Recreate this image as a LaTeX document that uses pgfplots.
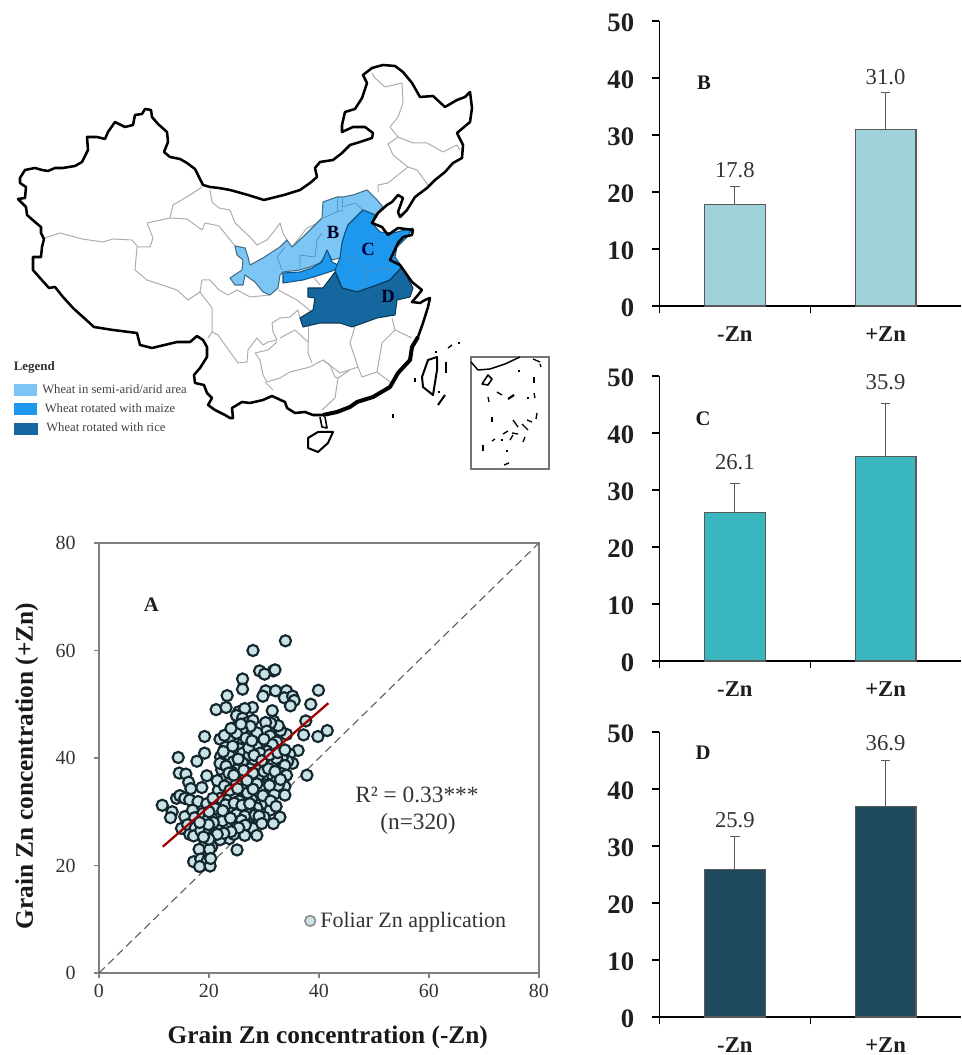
\documentclass[border=0pt]{standalone}
\usepackage{fontspec}
\setmainfont{Liberation Serif}
\usepackage{pgfplots}
\pgfplotsset{compat=1.18}
\newcommand{\fs}[1]{\fontsize{#1}{#1}\selectfont}
\definecolor{lightreg}{HTML}{7CC6F6}
\definecolor{midreg}{HTML}{1E98EE}
\definecolor{darkreg}{HTML}{15689F}
\definecolor{barB}{HTML}{A0D2DB}
\definecolor{barC}{HTML}{3AB6BF}
\definecolor{barD}{HTML}{1F4A5E}
\definecolor{dot}{HTML}{C8E2E6}
\definecolor{dotedge}{HTML}{14262E}
\tikzset{
  vallabel/.style={font=\fs{17},text=black!80},
  panlabel/.style={font=\fs{15.5}\bfseries,text=black!90},
}
\pgfplotsset{
  prov/.style={no marks,color=black!32,line width=0.75pt,line join=round},
  provin/.style={no marks,color=darkreg!75,line width=0.5pt,line join=round},
  border/.style={no marks,color=black,line width=1.9pt,line join=round},
  thin border/.style={no marks,color=black,line width=1pt,line join=round},
  reg/.style={draw=#1!55!black,fill=#1,line width=0.8pt,line join=round},
  barpanel/.style={
    scale only axis,width=226.1pt,height=213.75pt,anchor=south west,
    xmin=0,xmax=2,ymin=0,ymax=50,
    axis x line=bottom,axis y line=left,axis line style={-,black,line width=1.1pt},
    xtick={0,1},xticklabels={},ytick={0,10,20,30,40,50},
    tick align=outside,major tick length=5.5pt,tick style={black,line width=1pt},
    /pgf/number format/assume math mode=true,
    yticklabel style={font=\fs{20}\bfseries,xshift=-10pt,yshift=-1pt,text=black!88},
    extra x ticks={0.5,1.5},extra x tick labels={-Zn,+Zn},
    extra x tick style={major tick length=0pt,tick label style={font=\fs{17}\bfseries,inner sep=0pt,yshift=-15.5pt,text=black!88}},
    ybar,bar width=0.404,clip=false,
  },
  barerr/.style={
    error bars/.cd,y dir=plus,y explicit,
    error bar style={black!65,line width=0.9pt},
    error mark options={rotate=90,black!65,mark size=3.5pt,line width=0.8pt},
  },
}
\begin{document}
\begin{tikzpicture}
\useasboundingbox (0,0) rectangle (720.75pt,791.25pt);

% map, traced in picture pixels
\begin{axis}[
  at={(0pt,0pt)},anchor=south west,scale only axis,width=720.75pt,height=791.25pt,
  xmin=0,xmax=961,ymin=0,ymax=1055,y dir=reverse,hide axis,clip=false,
]
% provinces
\addplot[prov] coordinates {(45,238) (60,233) (75,237) (82,239) (103,242) (113,239) (132,240) (138,247) (150,247) (153,238) (147,223) (170,218) (173,205) (190,195) (202,187)};
\addplot[prov] coordinates {(170,218) (187,219) (202,230) (205,223) (219,226) (235,246)};
\addplot[prov] coordinates {(210,190) (212,202) (219,208) (230,210) (235,223) (250,237) (257,245) (267,240) (275,230) (280,223) (283,233) (287,240)};
\addplot[prov] coordinates {(137,247) (135,270) (147,280) (177,290) (188,300) (200,292) (202,280) (210,280) (219,290) (228,295) (237,290) (250,297) (270,295)};
\addplot[prov] coordinates {(200,292) (212,308) (212,332) (208,338)};
\addplot[prov] coordinates {(212,332) (218,335) (230,352) (238,363) (247,362) (248,350) (257,338) (263,345) (268,342) (277,340) (273,332) (272,323) (280,318) (290,317) (298,310) (300,318)};
\addplot[prov] coordinates {(255,353) (260,360) (263,375) (267,382) (280,378) (290,372) (310,367) (323,360) (330,365) (335,377) (338,378) (335,398) (322,410)};
\addplot[prov] coordinates {(255,353) (268,350) (277,342)};
\addplot[prov] coordinates {(265,382) (273,390)};
\addplot[prov] coordinates {(280,338) (295,330) (308,342) (308,353) (312,363)};
\addplot[prov] coordinates {(308,342) (308,325)};
\addplot[prov] coordinates {(338,378) (350,370)};
\addplot[prov] coordinates {(392,318) (395,330) (412,338)};
\addplot[prov] coordinates {(355,326) (350,343) (358,367) (340,373) (323,360)};
\addplot[prov] coordinates {(395,330) (382,343) (377,372) (362,377) (358,367)};
\addplot[prov] coordinates {(377,372) (390,382)};
\addplot[prov] coordinates {(278,290) (297,300) (313,313)};
\addplot[prov] coordinates {(312,275) (320,285)};
\addplot[prov] coordinates {(320,222) (307,228) (292,247)};
\addplot[prov] coordinates {(372,73) (375,78) (385,87) (402,83) (403,103) (398,117) (390,127) (398,137) (388,144) (393,155) (408,167) (388,183) (378,185) (378,192)};
\addplot[prov] coordinates {(398,137) (413,143) (427,143) (443,152) (457,145) (460,150)};
\addplot[prov] coordinates {(408,167) (417,170) (428,185)};
% wheat regions
\addplot[reg=lightreg] coordinates {(235,246) (245,248) (248,257) (250,265) (263,258) (272,252) (280,247) (287,240) (292,247) (305,235) (317,223) (322,218) (323,202) (337,197) (343,197) (353,195) (367,190) (377,200) (383,207) (375,215) (363,210) (355,218) (348,225) (345,233) (342,243) (340,258) (332,260) (328,252) (320,263) (310,267) (300,270) (283,272) (280,275) (278,288) (270,295) (263,292) (255,282) (245,275) (243,285) (235,285) (230,278) (242,270) (243,260) (237,255)} -- cycle;
\addplot[reg=midreg] coordinates {(283,273) (300,272) (312,268) (322,262) (327,250) (330,257) (332,262) (338,265) (335,270) (320,275) (303,280) (283,283)} -- cycle;
\addplot[reg=midreg] coordinates {(348,225) (355,218) (363,210) (375,215) (372,223) (380,232) (393,233) (413,228) (407,237) (397,247) (395,257) (402,267) (390,280) (377,285) (357,292) (342,288) (335,270) (340,258) (342,243) (345,233)} -- cycle;
\addplot[reg=darkreg] coordinates {(308,288) (323,288) (335,272) (342,288) (357,292) (377,285) (390,280) (402,267) (413,288) (410,297) (397,300) (395,315) (377,318) (352,327) (340,323) (320,323) (303,327) (300,318) (313,310) (315,298) (308,297)} -- cycle;
\addplot[provin] coordinates {(323,218) (337,212) (343,210)};
\addplot[provin] coordinates {(338,198) (337,212)};
\addplot[provin] coordinates {(343,198) (342,207) (355,203) (363,210)};
\addplot[provin] coordinates {(322,233) (317,240) (315,257) (300,255) (300,270)};
\addplot[provin] coordinates {(285,247) (277,257) (282,270)};
\addplot[provin] coordinates {(345,257) (357,260) (367,273) (362,288)};
\addplot[provin] coordinates {(367,273) (380,268) (393,270)};
% national border and coast
\addplot[border] coordinates {(219,188) (210,187) (203,185) (198,175) (195,169) (187,163) (180,159) (170,157) (164,152) (168,142) (167,132) (158,124) (152,117) (151,110) (145,109) (142,114) (135,115) (133,125) (125,127) (115,122) (108,132) (105,139) (97,137) (87,137) (88,150) (82,162) (75,166) (63,168) (55,168) (48,171) (42,170) (35,168) (25,170) (20,178) (20,183) (26,187) (25,198) (18,199) (26,207) (27,215) (35,222) (41,227) (41,233) (44,239) (42,247) (41,257) (33,257) (33,270) (40,278) (49,288) (55,287) (63,297) (73,308) (94,327) (113,330) (137,333) (140,345) (152,348) (177,342) (190,342) (197,336) (203,340) (207,347) (207,357) (200,368) (194,375) (195,383) (204,385) (207,393) (212,398) (208,405) (215,410) (225,415) (230,418) (233,418) (232,408) (242,402) (250,403) (263,400) (272,396) (285,402) (287,408) (295,413) (305,412) (313,415) (323,415) (337,412) (350,407) (357,402) (373,397) (390,387) (398,373) (410,360) (412,347) (418,337) (423,323) (428,307) (430,298) (425,300) (420,303) (412,302) (418,295) (422,290) (412,282) (400,265) (390,260) (398,243) (403,237) (412,235) (413,230) (398,228) (388,235) (382,227) (372,223) (378,213) (387,205) (392,202) (398,195) (403,198) (398,212) (400,217) (407,210) (415,197) (427,188) (435,180) (445,172) (453,163) (462,158) (463,145) (457,133) (470,122) (472,108) (470,92) (465,97) (457,100) (445,107) (433,96) (420,97) (412,83) (403,72) (395,66) (383,65) (372,68) (363,75) (367,83) (362,98) (355,109) (345,112) (342,125) (342,132) (353,127) (365,127) (373,133) (372,138) (360,142) (350,145) (342,153) (333,160) (320,162) (315,168) (317,177) (310,183) (300,190) (284,195) (264,200) (248,195) (230,190) (219,188)} -- cycle;
\addplot[border,line width=3pt] coordinates {(323,415) (337,412) (350,407) (357,402) (373,397) (390,387) (398,373) (410,360) (412,347) (418,337)};
% islands
\addplot[border,line width=1.5pt] coordinates {(308,438) (318,432) (333,432) (328,443) (318,452) (308,448)} -- cycle;
\addplot[border,line width=1.2pt] coordinates {(320,417) (322,427) (327,428) (325,417)};
\addplot[border,line width=1.5pt] coordinates {(422,377) (428,360) (437,357) (437,370) (433,395) (423,387)} -- cycle;
\addplot[thin border,line width=1.5pt] coordinates {(446,362) (446,373)};
\addplot[thin border,line width=1.5pt] coordinates {(445,395) (438,405)};
\addplot[thin border] coordinates {(452,345) (448,348)};
\addplot[thin border] coordinates {(458,343) (460,343)};
\addplot[thin border] coordinates {(436,351) (436,353)};
\addplot[thin border,line width=2pt] coordinates {(415,378) (415,382)};
\addplot[thin border,line width=3pt] coordinates {(392,416) (394,416)};
\addplot[thin border] coordinates {(439,391) (439,393)};
% south china sea inset
\addplot[color=black!55,line width=1.2pt,no marks] coordinates {(471,357) (549,357) (549,469) (471,469)} -- cycle;
\addplot[border,line width=1.1pt] coordinates {(471,362) (478,370) (490,369) (505,364) (520,357)};
\addplot[border,line width=1pt] coordinates {(533,359) (540,362)};
\addplot[border,line width=1.2pt] coordinates {(482,384) (488,375) (492,379) (488,385)} -- cycle;
\addplot[thin border] coordinates {(540,364) (541,367)};
\addplot[thin border] coordinates {(519,370) (519,372)};
\addplot[thin border] coordinates {(534,377) (534,383)};
\addplot[thin border] coordinates {(488,397) (489,402)};
\addplot[thin border] coordinates {(497,392) (502,395)};
\addplot[thin border,line width=1.6pt] coordinates {(508,399) (514,395)};
\addplot[thin border] coordinates {(528,397) (528,399)};
\addplot[thin border] coordinates {(534,393) (535,398)};
\addplot[thin border] coordinates {(492,417) (492,422)};
\addplot[thin border] coordinates {(537,413) (536,419)};
\addplot[thin border] coordinates {(513,420) (518,427)};
\addplot[thin border] coordinates {(522,424) (528,430)};
\addplot[thin border] coordinates {(527,420) (532,422)};
\addplot[thin border] coordinates {(503,434) (508,431)};
\addplot[thin border] coordinates {(512,433) (518,434)};
\addplot[thin border] coordinates {(501,440) (503,440)};
\addplot[thin border] coordinates {(492,441) (495,439)};
\addplot[thin border] coordinates {(510,440) (513,435)};
\addplot[thin border] coordinates {(525,437) (523,442)};
\addplot[thin border] coordinates {(483,445) (483,451)};
\addplot[thin border] coordinates {(507,450) (507,452)};
\addplot[thin border] coordinates {(504,465) (509,463)};
% legend
\addplot[draw=none,fill=lightreg] coordinates {(13.5,384.3) (37,384.3) (37,396) (13.5,396)} -- cycle;
\addplot[draw=none,fill=midreg] coordinates {(13.5,403) (37,403) (37,415) (13.5,415)} -- cycle;
\addplot[draw=none,fill=darkreg] coordinates {(13.5,423) (38,423) (38,435) (13.5,435)} -- cycle;
\node[font=\fs{9.7}\bfseries,text=black!80,anchor=west,inner sep=0pt] at (axis cs:13.5,367) {Legend};
\node[font=\fs{9.5},text=black!75,anchor=west,inner sep=0pt] at (axis cs:42,389) {Wheat in semi-arid/arid area};
\node[font=\fs{9.5},text=black!75,anchor=west,inner sep=0pt] at (axis cs:44.5,408) {Wheat rotated with maize};
\node[font=\fs{9.5},text=black!75,anchor=west,inner sep=0pt] at (axis cs:46,427) {Wheat rotated with rice};
\node[font=\fs{14}\bfseries,text=black!85!blue] at (axis cs:333,232) {B};
\node[font=\fs{14}\bfseries,text=black!75!blue] at (axis cs:368,249) {C};
\node[font=\fs{14}\bfseries,text=black!85!blue] at (axis cs:388,296) {D};
\end{axis}

% panel A
\begin{axis}[
  at={(74.25pt,61.5pt)},anchor=south west,scale only axis,width=330pt,height=322.5pt,
  xmin=0,xmax=80,ymin=0,ymax=80,xtick={0,20,40,60,80},ytick={0,20,40,60,80},
  xtick pos=bottom,ytick pos=left,tick align=outside,major tick length=4pt,
  axis line style={black!50,line width=0.8pt},tick style={black!50,line width=0.8pt},
  /pgf/number format/assume math mode=true,
  tick label style={font=\fs{15},text=black!80},
  xticklabel style={yshift=-1pt},yticklabel style={xshift=-10pt},
  xlabel={Grain Zn concentration (-Zn)},ylabel={Grain Zn concentration (+Zn)},
  label style={font=\fs{19}\bfseries,text=black!90},
  xlabel style={at={(axis description cs:.52,-.149)},anchor=center},
  ylabel style={at={(axis description cs:-.164,.481)},anchor=center},
  clip marker paths=true,
]
\addplot[black!65,line width=0.8pt,dash pattern=on 6pt off 3.5pt,no marks] coordinates {(0,0) (80,80)};
\addplot[only marks,mark=*,mark size=4.2pt,mark options={fill=dot,draw=dotedge,line width=1.6pt}] coordinates {
(33.9,61.8) (28.0,60.0) (29.2,56.2) (31.7,56.2) (32.0,56.4) (30.1,55.6) (26.1,54.7) (26.1,52.8) (23.3,51.6) (30.3,52.5)
(29.8,51.5) (32.1,52.5) (34.1,52.5) (33.7,51.2) (35.2,51.5) (35.5,50.7) (34.8,49.7) (39.9,52.6) (38.5,50.0) (37.6,46.9)
(21.3,49.0) (23.1,49.4) (25.4,48.6) (27.9,49.4) (31.5,48.8) (26.5,49.2) (25.0,47.9) (26.1,47.4) (27.0,46.6) (28.0,47.0)
(37.2,44.3) (39.8,44.0) (41.5,45.1) (36.2,41.4) (37.8,36.8) (34.7,40.7) (35.2,39.0) (34.3,39.4) (33.3,40.0) (34.1,44.4)
(33.0,45.1) (31.8,46.8) (32.6,46.0) (31.2,46.5) (30.3,46.6) (30.5,45.0) (31.1,44.1) (32.3,43.0) (31.5,42.5) (30.5,41.3)
(29.5,42.9) (28.7,42.1) (28.7,44.7) (27.5,45.9) (26.0,45.3) (25.0,45.8) (24.3,44.5) (23.5,43.9) (22.0,43.5) (24.1,43.3)
(25.5,43.0) (26.2,42.8) (23.0,42.0) (24.5,41.5) (25.6,41.7) (26.1,40.9) (27.3,40.5) (22.1,40.2) (22.9,39.9) (23.7,40.5)
(24.4,39.3) (26.1,39.1) (28.2,39.0) (29.3,40.9) (30.5,39.6) (31.5,38.8) (32.3,39.9) (33.3,38.3) (33.8,38.6) (33.2,37.1)
(34.1,36.8) (29.0,38.0) (27.4,38.0) (25.0,37.8) (24.1,37.4) (22.3,37.8) (22.0,39.0) (23.1,38.5) (22.9,36.2) (24.0,36.0)
(25.7,36.3) (26.5,36.2) (27.4,37.1) (28.5,36.3) (29.6,36.8) (30.8,36.2) (31.5,36.9) (32.2,35.6) (33.8,34.7) (30.2,35.0)
(25.0,35.3) (27.7,35.0) (26.3,34.2) (28.4,33.8) (29.6,34.6) (31.0,33.6) (31.9,33.3) (33.8,33.1) (32.6,34.9)
(19.2,44.0) (19.2,40.9) (17.8,39.4) (14.4,40.1) (14.6,37.2) (15.8,37.0) (19.6,36.7) (16.3,35.5) (16.7,34.3) (18.7,34.5)
(21.7,34.0) (11.5,31.2) (13.3,30.0) (13.0,28.9) (14.1,32.5) (14.7,33.0) (15.6,32.5) (16.5,32.2) (18.0,31.9) (19.6,31.5)
(21.1,31.4) (15.6,29.1) (17.0,30.3) (17.4,28.9) (18.9,29.7) (19.9,28.8) (15.0,26.9) (16.1,27.6) (16.5,25.8) (17.5,27.0)
(17.2,25.5) (18.5,26.5) (19.9,26.0) (20.5,25.3) (21.3,26.0)
(22.0,32.5) (23.5,32.2) (24.7,33.3) (26.8,32.8) (25.5,32.0) (27.8,32.2) (29.0,31.2) (30.2,31.5) (31.1,30.3) (32.9,29.0)
(30.0,29.0) (28.7,30.7) (27.3,30.6) (25.9,30.6) (24.1,30.6) (22.3,29.4) (21.1,30.6) (23.5,29.1) (25.0,29.5) (26.5,29.2)
(28.4,29.4) (29.1,29.2) (25.9,28.4) (27.7,27.2) (28.0,26.9) (26.6,27.5) (24.7,27.2) (23.2,27.5) (21.4,27.2) (22.5,28.3)
(20.8,28.0) (19.9,27.6) (31.7,27.8) (29.6,27.8) (26.5,25.6) (28.7,25.6) (23.7,25.0) (22.0,24.8) (24.5,25.8) (20.5,23.5)
(19.3,24.4) (18.2,23.0) (20.1,23.0) (25.1,22.9) (19.8,21.0) (17.2,20.7) (18.5,21.2) (19.7,20.9) (18.3,19.8) (20.2,19.9)
(20.3,21.3)
(21.5,35.8) (22.8,34.8) (23.8,34.0) (25.2,34.3) (27.0,33.5) (28.7,35.2) (29.8,33.0) (31.2,32.0) (32.2,31.0) (23.0,31.3)
(24.6,31.6) (26.0,31.2) (27.4,31.5) (22.5,30.2) (20.0,30.0) (20.7,32.5) (23.9,28.8) (25.4,27.0) (24.0,26.3) (22.7,26.0)
(21.5,25.8) (20.0,24.9) (19.0,25.3) (18.3,28.0) (26.3,37.7) (28.0,37.2) (30.0,37.5) (30.8,38.0) (32.0,37.5) (23.6,37.2)
(22.6,41.2) (24.3,42.2) (25.3,39.8) (27.2,41.9) (28.2,40.5) (29.6,39.5) (31.0,40.6) (32.5,41.0) (33.8,41.5) (30.0,43.5)
(26.7,43.7) (27.8,43.2) (25.0,44.6) (22.8,44.2) (24.0,45.5) (25.8,46.3) (33.0,36.0) (31.0,34.9) (28.0,34.2) (26.9,35.8)
(24.5,36.8)
};
\addplot[color=red!62!black,line width=1.7pt,no marks] coordinates {(11.6,23.5) (41.7,50.2)};
\addplot[only marks,mark=*,mark size=4pt,mark options={fill=dot,draw=black!45,line width=1.2pt}] coordinates {(38.4,9.7)};
\node[font=\fs{16.5},text=black!80,anchor=west,inner sep=0pt] at (axis cs:40.2,9.5) {Foliar Zn application};
\node[font=\fs{15.5}\bfseries,text=black!88] at (axis cs:9.5,68.5) {A};
\node[font=\fs{17.5},text=black!80] at (axis cs:57.8,33.1) {R² = 0.33***};
\node[font=\fs{17.5},text=black!80] at (axis cs:58,27.7) {(n=320)};
\end{axis}

% panel B
\begin{axis}[barpanel,at={(494.6pt,561.75pt)}]
\addplot[fill=barB,draw=black!65,line width=0.9pt,barerr] coordinates {(0.5,17.8) +- (0,3.1) (1.5,31.0) +- (0,6.4)};
\node[vallabel] at (axis cs:0.5,23.9) {17.8};
\node[vallabel] at (axis cs:1.5,40.2) {31.0};
\node[panlabel] at (axis cs:0.295,39.1) {B};
\end{axis}

% panel C
\begin{axis}[barpanel,at={(494.6pt,295.5pt)}]
\addplot[fill=barC,draw=black!65,line width=0.9pt,barerr] coordinates {(0.5,26.1) +- (0,5.1) (1.5,35.9) +- (0,9.3)};
\node[vallabel] at (axis cs:0.5,34.9) {26.1};
\node[vallabel] at (axis cs:1.5,48.9) {35.9};
\node[panlabel] at (axis cs:0.29,42.5) {C};
\end{axis}

% panel D
\begin{axis}[barpanel,at={(494.6pt,28.5pt)}]
\addplot[fill=barD,draw=black!65,line width=0.9pt,barerr] coordinates {(0.5,25.9) +- (0,5.7) (1.5,36.9) +- (0,8.1)};
\node[vallabel] at (axis cs:0.5,34.6) {25.9};
\node[vallabel] at (axis cs:1.5,48) {36.9};
\node[panlabel] at (axis cs:0.29,46.3) {D};
\end{axis}
\end{tikzpicture}
\end{document}
